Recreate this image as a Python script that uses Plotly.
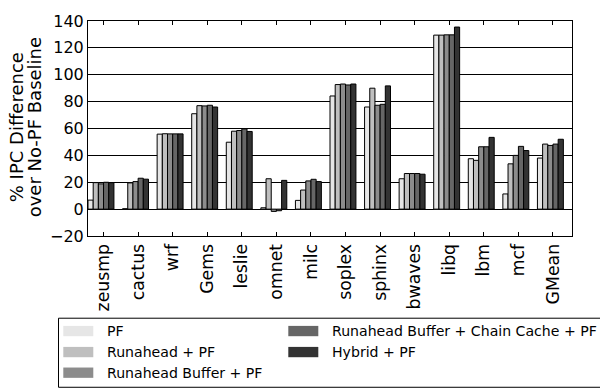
import plotly.graph_objects as go

categories = ["zeusmp", "cactus", "wrf", "Gems", "leslie", "omnet", "milc",
              "soplex", "sphinx", "bwaves", "libq", "lbm", "mcf", "GMean"]
series_names = ["PF", "Runahead + PF", "Runahead Buffer + PF",
                "Runahead Buffer + Chain Cache + PF", "Hybrid + PF"]
pf = [6.7, 0.3, 55.8, 71.0, 49.8, 1.0, 6.5, 84.2, 76.0, 22.6, 129.5, 37.5, 11.3, 38.0]
runahead = [19.7, 19.5, 56.1, 77.0, 58.0, 22.6, 14.2, 92.7, 90.0, 26.5, 129.5, 36.3, 33.7, 48.4]
runahead_buffer = [18.8, 20.5, 56.0, 76.8, 58.5, -1.7, 21.0, 93.1, 77.3, 26.5, 129.7, 46.4, 40.0, 47.4]
rb_chain_cache = [20.0, 23.0, 56.0, 77.3, 59.7, -1.2, 22.2, 92.4, 78.0, 26.5, 129.7, 46.4, 46.7, 48.4]
hybrid = [19.7, 22.3, 56.0, 76.0, 57.8, 21.4, 20.5, 93.1, 91.7, 26.0, 135.5, 53.4, 43.6, 52.0]
y_ticks = [-20, 0, 20, 40, 60, 80, 100, 120, 140]
y_title_lines = ["% IPC Difference", "over No-PF Baseline"]

series = [pf, runahead, runahead_buffer, rb_chain_cache, hybrid]
colors = ["#e6e6e6", "#bfbfbf", "#8c8c8c", "#666666", "#333333"]

W, H = 600, 392
L, R, T, B = 88, 28, 15, 156
FONT = "DejaVu Sans"
bar_w = 0.15
ind = list(range(len(categories)))

fig = go.Figure()
for i, (name, vals) in enumerate(zip(series_names, series)):
    fig.add_trace(go.Bar(
        x=ind, y=vals, name=name, width=bar_w, offset=i * bar_w,
        marker=dict(color=colors[i], line=dict(color="black", width=1)),
        showlegend=False,
    ))

# helpers: pixel -> paper
pw, ph = W - L - R, H - T - B
def px_x(x):
    return (x - L) / pw
def px_y(y):
    return (H - B - y) / ph

shapes = []
annotations = []
# legend box
shapes.append(dict(type="rect", xref="paper", yref="paper",
                   x0=px_x(58.5), x1=px_x(601), y0=px_y(320.5), y1=px_y(391.5),
                   line=dict(color="black", width=1), fillcolor="white", layer="above"))
legend_pos = [(63.3, 333.7, 105), (63.3, 355.3, 105), (63.3, 376.5, 105),
              (288.3, 333.7, 330), (288.3, 355.3, 330)]
for (sx, sy, tx), name, c in zip(legend_pos, series_names, colors):
    shapes.append(dict(type="rect", xref="paper", yref="paper",
                       x0=px_x(sx), x1=px_x(sx + 30), y0=px_y(sy - 5.3), y1=px_y(sy + 5.3),
                       line=dict(width=0), fillcolor=c, layer="above"))
    annotations.append(dict(text=name, xref="paper", yref="paper", x=px_x(tx), y=px_y(sy),
                            xanchor="left", yanchor="middle", showarrow=False,
                            font=dict(family=FONT, size=14.1, color="black")))

for line, cx in zip(y_title_lines, [16.7, 34.8]):
    annotations.append(dict(text=line, xref="paper", yref="paper",
                            x=px_x(cx), y=px_y(124.5), xanchor="center", yanchor="middle",
                            textangle=-90, showarrow=False,
                            font=dict(family=FONT, size=18, color="black")))

fig.update_layout(
    width=W, height=H, margin=dict(l=L, r=R, t=T, b=B, pad=0),
    paper_bgcolor="white", plot_bgcolor="white",
    barmode="overlay", showlegend=False,
    font=dict(family=FONT, color="black"),
    shapes=shapes, annotations=annotations,
    xaxis=dict(range=[0, len(categories)],
               tickvals=[k + 3 * bar_w for k in ind], ticktext=categories,
               tickangle=-90, ticks="inside", ticklen=4, tickcolor="black",
               showline=True, linecolor="black", linewidth=1, mirror="ticks",
               showgrid=False, zeroline=False,
               tickfont=dict(family=FONT, size=17.3, color="black")),
    yaxis=dict(range=[-20, 140], tickvals=y_ticks,
               ticks="inside", ticklen=4, tickcolor="black",
               showline=True, linecolor="black", linewidth=1, mirror="ticks",
               showgrid=True, gridcolor="black", gridwidth=1,
               zeroline=True, zerolinecolor="black", zerolinewidth=1,
               tickfont=dict(family=FONT, size=16, color="black")),
)

fig.write_html("out.html")
